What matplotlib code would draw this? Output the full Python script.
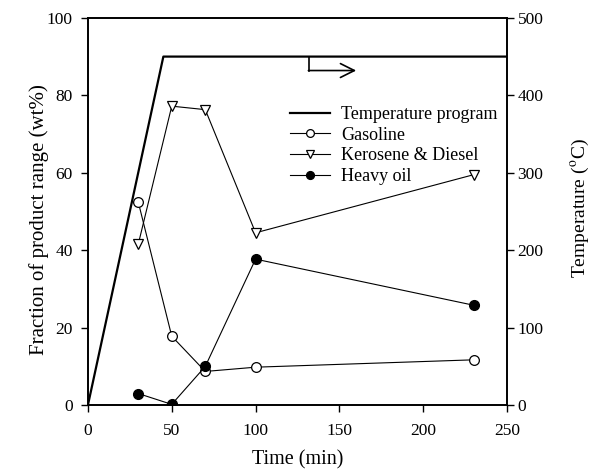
import matplotlib
matplotlib.use("Agg")
import matplotlib.pyplot as plt

plt.rcParams['font.family'] = ['Liberation Serif', 'DejaVu Serif']
plt.rcParams['mathtext.fontset'] = 'stix'

time = [30, 50, 70, 100, 230]
gasoline = [52.5, 17.8, 8.7, 9.8, 11.7]
kerosene = [41.5, 77.2, 76.3, 44.5, 59.5]
heavy = [3.0, 0.2, 10.0, 37.7, 25.8]

temp_time = [0, 45, 250]
temp_vals = [0, 450, 450]

fig = plt.figure(figsize=(5.98, 4.70), dpi=100)
ax = fig.add_axes([0.147, 0.138, 0.701, 0.824])
ax2 = ax.twinx()

ax2.plot(temp_time, temp_vals, color='black', lw=1.6, label='Temperature program')
l1, = ax.plot(time, gasoline, color='black', lw=0.8, marker='o', ms=7,
              mfc='white', mec='black', mew=0.9, label='Gasoline')
l2, = ax.plot(time, kerosene, color='black', lw=0.8, marker='v', ms=7,
              mfc='white', mec='black', mew=0.9, label='Kerosene & Diesel')
l3, = ax.plot(time, heavy, color='black', lw=0.8, marker='o', ms=7,
              mfc='black', mec='black', label='Heavy oil')

# arrow indicating right axis
ax2.plot([132, 132], [450, 432], color='black', lw=1.2)
ax2.annotate('', xy=(160, 432), xytext=(131.5, 432),
             arrowprops=dict(arrowstyle='->', color='black', lw=1.2,
                             mutation_scale=25, shrinkA=0, shrinkB=0))

ax.set_xlim(0, 250)
ax.set_ylim(0, 100)
ax2.set_ylim(0, 500)
ax.set_xticks(range(0, 251, 50))
ax.set_yticks(range(0, 101, 20))
ax2.set_yticks(range(0, 501, 100))

for a in (ax, ax2):
    a.tick_params(direction='out', length=5, width=1, labelsize=12.5)
    for s in a.spines.values():
        s.set_linewidth(1.2)
ax.tick_params(axis='x', pad=8)
ax.tick_params(axis='y', pad=6)
ax2.tick_params(axis='y', pad=2.5)

ax.set_xlabel('Time (min)', fontsize=14.5)
ax.set_ylabel('Fraction of product range (wt%)', fontsize=15)
ax2.set_ylabel(r'Temperature ($^{\mathrm{o}}$C)', fontsize=14)
ax.xaxis.set_label_coords(0.5, -0.117)
ax.yaxis.set_label_coords(-0.093, 0.478)
ax2.yaxis.set_label_coords(1.148, 0.509)

h2, lab2 = ax2.get_legend_handles_labels()
ax.legend(h2[:1] + [l1, l2, l3], lab2[:1] + ['Gasoline', 'Kerosene & Diesel', 'Heavy oil'],
          frameon=False, fontsize=13, loc='upper left', bbox_to_anchor=(0.482, 0.772),
          handlelength=2.2, handletextpad=0.65, labelspacing=0.2,
          borderaxespad=0, borderpad=0, markerscale=0.8)

fig.savefig('out.png', dpi=100)
